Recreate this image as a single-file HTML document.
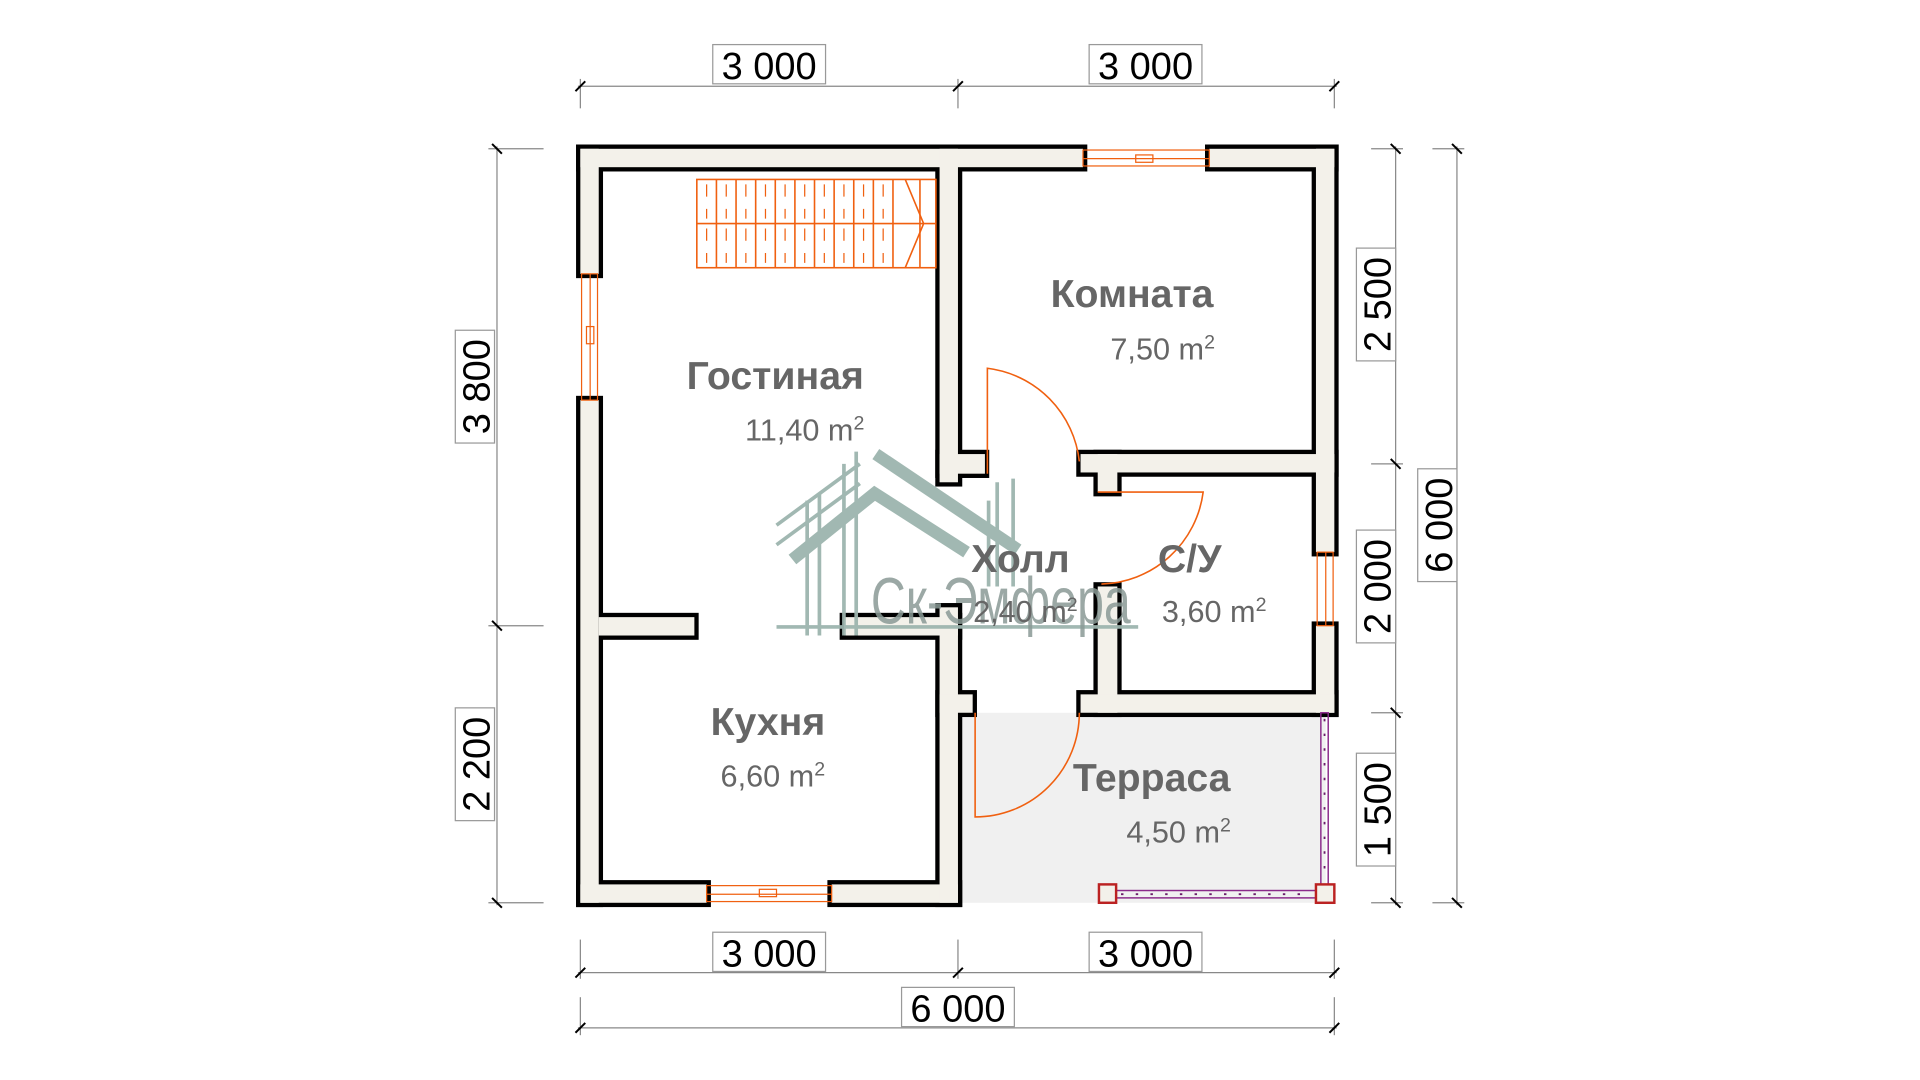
<!DOCTYPE html>
<html><head><meta charset="utf-8"><style>
html,body{margin:0;padding:0;background:#fff;width:1920px;height:1080px;overflow:hidden}
svg{display:block}
.lbl{font-family:"Liberation Sans",sans-serif;font-weight:bold;fill:#666;font-size:32px;text-anchor:middle}
.ar{font-family:"Liberation Sans",sans-serif;fill:#666;font-size:25px;text-anchor:middle}
.dim{font-family:"Liberation Sans",sans-serif;fill:#000;font-size:31px;text-anchor:middle}
</style></head><body>
<svg width="1920" height="1080" viewBox="0 0 1920 1080">
<g transform="translate(-2,-2) scale(1.226)">
<rect x="783" y="583" width="300" height="155" fill="#f0f0f0"/>
<g id="w" fill="#f3f1ea" stroke="#000" stroke-width="7" stroke-linejoin="miter">
<rect x="475" y="123" width="410" height="15"/>
<rect x="988" y="123" width="102" height="15"/>
<rect x="475" y="123" width="15" height="102"/>
<rect x="475" y="328" width="15" height="410"/>
<rect x="1075" y="123" width="15" height="329"/>
<rect x="1075" y="512" width="15" height="71"/>
<rect x="475" y="723" width="103" height="15"/>
<rect x="680" y="723" width="103" height="15"/>
<rect x="768" y="123" width="15" height="272"/>
<rect x="768" y="372" width="37" height="16"/>
<rect x="883" y="372" width="207" height="15"/>
<rect x="897" y="372" width="16" height="31"/>
<rect x="897" y="480" width="16" height="103"/>
<rect x="883" y="568" width="207" height="15"/>
<rect x="490" y="505" width="78" height="15"/>
<rect x="690" y="505" width="93" height="15"/>
<rect x="768" y="497" width="15" height="241"/>
<rect x="768" y="568" width="27" height="15"/>
</g>
<g fill="#f3f1ea" stroke="none">
<rect x="475" y="123" width="410" height="15"/>
<rect x="988" y="123" width="102" height="15"/>
<rect x="475" y="123" width="15" height="102"/>
<rect x="475" y="328" width="15" height="410"/>
<rect x="1075" y="123" width="15" height="329"/>
<rect x="1075" y="512" width="15" height="71"/>
<rect x="475" y="723" width="103" height="15"/>
<rect x="680" y="723" width="103" height="15"/>
<rect x="768" y="123" width="15" height="272"/>
<rect x="768" y="372" width="37" height="16"/>
<rect x="883" y="372" width="207" height="15"/>
<rect x="897" y="372" width="16" height="31"/>
<rect x="897" y="480" width="16" height="103"/>
<rect x="883" y="568" width="207" height="15"/>
<rect x="490" y="505" width="78" height="15"/>
<rect x="690" y="505" width="93" height="15"/>
<rect x="768" y="497" width="15" height="241"/>
<rect x="768" y="568" width="27" height="15"/>
</g>
<g fill="none" stroke="#f06010" stroke-width="1">
<rect x="885" y="124" width="103" height="13"/><line x1="885" y1="131" x2="988" y2="131"/><rect x="928" y="128" width="14" height="6"/>
<rect x="476" y="225" width="13" height="103"/><line x1="483" y1="225" x2="483" y2="328"/><rect x="480" y="268" width="6" height="14"/>
<rect x="1076" y="452" width="13" height="60"/><line x1="1083" y1="452" x2="1083" y2="512"/>
<rect x="578" y="724" width="102" height="13"/><line x1="578" y1="731" x2="680" y2="731"/><rect x="621" y="727" width="14" height="6"/>
</g>
<g fill="none" stroke="#f06010" stroke-width="1.3">
<rect x="570" y="148" width="195" height="72"/>
<line x1="570" y1="184" x2="765" y2="184"/>
<path d="M740 148 L755 184 L740 220"/>
<path d="M586 148V220M602 148V220M618 148V220M634 148V220M650 148V220M666 148V220M682 148V220M698 148V220M714 148V220M730 148V220M752 148V220"/>
<path d="M578 152V162M578 172V180M578 188V198M578 208V216M594 152V162M594 172V180M594 188V198M594 208V216M610 152V162M610 172V180M610 188V198M610 208V216M626 152V162M626 172V180M626 188V198M626 208V216M642 152V162M642 172V180M642 188V198M642 208V216M658 152V162M658 172V180M658 188V198M658 208V216M674 152V162M674 172V180M674 188V198M674 208V216M690 152V162M690 172V180M690 188V198M690 208V216M706 152V162M706 172V180M706 188V198M706 208V216M722 152V162M722 172V180M722 188V198M722 208V216" stroke-width="1"/>
</g>
<g fill="none" stroke="#f06010" stroke-width="1.3">
<path d="M807 388 V302 A86 86 0 0 1 882 378"/>
<path d="M897 403 H983 A86 86 0 0 1 900 478"/>
<path d="M797 583 V668 A85 85 0 0 0 882 583"/>
</g>
<g>
<rect x="1079" y="583" width="6" height="140" fill="none" stroke="#8a2a8a" stroke-width="1.2"/>
<rect x="912" y="728" width="163" height="6" fill="none" stroke="#8a2a8a" stroke-width="1.2"/>
<line x1="1082" y1="588" x2="1082" y2="720" stroke="#6a1a6a" stroke-width="1.5" stroke-dasharray="2 10"/>
<line x1="916" y1="731" x2="1072" y2="731" stroke="#6a1a6a" stroke-width="1.5" stroke-dasharray="2 10"/>
<rect x="898" y="723" width="14" height="15" fill="#f3f1ea" stroke="#b22" stroke-width="2"/>
<rect x="1075" y="723" width="15" height="15" fill="#f3f1ea" stroke="#b22" stroke-width="2"/>
</g>
<g stroke="#9db5ae" fill="none" opacity="0.95">
<path d="M648 458 L715 404 L790 452" stroke-width="10"/>
<path d="M716 372 L832 450" stroke-width="10"/>
<path d="M635 430 L703 380 M635 446 L703 396" stroke-width="3"/>
<path d="M660 410V520 M670 405V520 M690 380V520 M700 370V520 M808 410V480 M815 395V480 M828 392V480" stroke-width="3"/>
<path d="M635 513 H930" stroke-width="3"/>
</g>
<text x="712" y="510" font-family="Liberation Sans,sans-serif" font-size="54" fill="#8a9a96" opacity="0.85" textLength="212" lengthAdjust="spacingAndGlyphs">Ск-Эмфера</text>
<text class="lbl" x="925" y="252">Комната</text>
<text class="ar" x="950" y="295">7,50 m<tspan font-size="16" dy="-9">2</tspan></text>
<text class="lbl" x="634" y="319">Гостиная</text>
<text class="ar" x="658" y="361">11,40 m<tspan font-size="16" dy="-9">2</tspan></text>
<text class="lbl" x="834" y="468">Холл</text>
<text class="ar" x="838" y="509">2,40 m<tspan font-size="16" dy="-9">2</tspan></text>
<text class="lbl" x="972" y="468">С/У</text>
<text class="ar" x="992" y="509">3,60 m<tspan font-size="16" dy="-9">2</tspan></text>
<text class="lbl" x="628" y="601">Кухня</text>
<text class="ar" x="632" y="643">6,60 m<tspan font-size="16" dy="-9">2</tspan></text>
<text class="lbl" x="941" y="647">Терраса</text>
<text class="ar" x="963" y="689">4,50 m<tspan font-size="16" dy="-9">2</tspan></text>
<g stroke="#888" stroke-width="1" fill="none">
<line x1="473" y1="72" x2="1092" y2="72"/>
<line x1="475" y1="66" x2="475" y2="90"/><line x1="783" y1="66" x2="783" y2="90"/><line x1="1090" y1="66" x2="1090" y2="90"/>
<line x1="473" y1="795" x2="1092" y2="795"/>
<line x1="475" y1="768" x2="475" y2="800"/><line x1="783" y1="768" x2="783" y2="800"/><line x1="1090" y1="768" x2="1090" y2="800"/>
<line x1="473" y1="840" x2="1092" y2="840"/>
<line x1="475" y1="815" x2="475" y2="846"/><line x1="1090" y1="815" x2="1090" y2="846"/>
<line x1="407" y1="121" x2="407" y2="740"/>
<line x1="400" y1="123" x2="445" y2="123"/><line x1="400" y1="512" x2="445" y2="512"/><line x1="400" y1="738" x2="445" y2="738"/>
<line x1="1140" y1="121" x2="1140" y2="740"/>
<line x1="1120" y1="123" x2="1146" y2="123"/><line x1="1120" y1="380" x2="1146" y2="380"/><line x1="1120" y1="583" x2="1146" y2="583"/><line x1="1120" y1="738" x2="1146" y2="738"/>
<line x1="1190" y1="121" x2="1190" y2="740"/>
<line x1="1170" y1="123" x2="1196" y2="123"/><line x1="1170" y1="738" x2="1196" y2="738"/>
</g>
<g stroke="#000" stroke-width="1.6">
<path d="M471 76 l8 -8 M779 76 l8 -8 M1086 76 l8 -8"/>
<path d="M471 799 l8 -8 M779 799 l8 -8 M1086 799 l8 -8"/>
<path d="M471 844 l8 -8 M1086 844 l8 -8"/>
<path d="M403 119 l8 8 M403 508 l8 8 M403 734 l8 8"/>
<path d="M1136 119 l8 8 M1136 376 l8 8 M1136 579 l8 8 M1136 734 l8 8"/>
<path d="M1186 119 l8 8 M1186 734 l8 8"/>
</g>
<g fill="#fff" stroke="#999" stroke-width="1">
<rect x="583" y="38" width="92" height="32"/><rect x="890" y="38" width="92" height="32"/>
<rect x="583" y="762" width="92" height="32"/><rect x="890" y="762" width="92" height="32"/>
<rect x="737" y="807" width="92" height="32"/>
<rect x="373" y="271" width="32" height="92"/><rect x="373" y="579" width="32" height="92"/>
<rect x="1108" y="204" width="32" height="92"/><rect x="1108" y="434" width="32" height="92"/><rect x="1108" y="616" width="32" height="92"/>
<rect x="1158" y="384" width="32" height="92"/>
</g>
<text class="dim" x="629" y="66">3 000</text><text class="dim" x="936" y="66">3 000</text>
<text class="dim" x="629" y="790">3 000</text><text class="dim" x="936" y="790">3 000</text>
<text class="dim" x="783" y="835">6 000</text>
<text class="dim" transform="translate(401,317) rotate(-90)">3 800</text>
<text class="dim" transform="translate(401,625) rotate(-90)">2 200</text>
<text class="dim" transform="translate(1136,250) rotate(-90)">2 500</text>
<text class="dim" transform="translate(1136,480) rotate(-90)">2 000</text>
<text class="dim" transform="translate(1136,662) rotate(-90)">1 500</text>
<text class="dim" transform="translate(1186,430) rotate(-90)">6 000</text>
</g>
</svg>
</body></html>
